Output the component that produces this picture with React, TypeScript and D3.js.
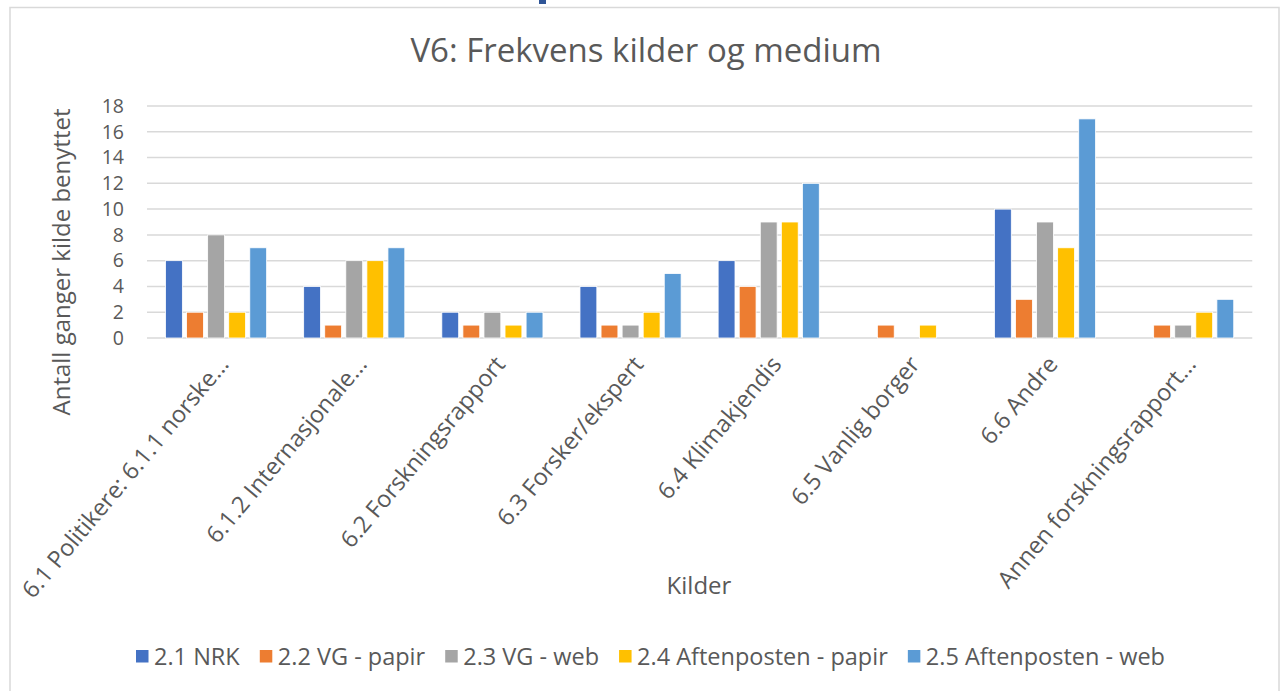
import { useEffect, useRef } from "react";
import * as d3 from "d3";

const categories = [
  "6.1 Politikere: 6.1.1 norske...",
  "6.1.2 Internasjonale...",
  "6.2 Forskningsrapport",
  "6.3 Forsker/ekspert",
  "6.4 Klimakjendis",
  "6.5 Vanlig borger",
  "6.6 Andre",
  "Annen forskningsrapport...",
];

const seriesNames = [
  "2.1 NRK",
  "2.2 VG - papir",
  "2.3 VG - web",
  "2.4 Aftenposten - papir",
  "2.5 Aftenposten - web",
];

const nrk = [6, 4, 2, 4, 6, 0, 10, 0];
const vgPapir = [2, 1, 1, 1, 4, 1, 3, 1];
const vgWeb = [8, 6, 2, 1, 9, 0, 9, 1];
const apPapir = [2, 6, 1, 2, 9, 1, 7, 2];
const apWeb = [7, 7, 2, 5, 12, 0, 17, 3];

const seriesValues = [nrk, vgPapir, vgWeb, apPapir, apWeb];
const colors = ["#4472C4", "#ED7D31", "#A5A5A5", "#FFC000", "#5B9BD5"];
const yTicks = [0, 2, 4, 6, 8, 10, 12, 14, 16, 18];

const W = 1285;
const H = 691;
const textColor = "#595959";
const font = "'Open Sans', sans-serif";

const App = () => {
  const svgRef = useRef<SVGSVGElement>(null);

  useEffect(() => {
    const svg = d3.select(svgRef.current);
    svg.selectAll("*").remove();

    const margin = { top: 106, left: 147, right: 32, bottom: 353 };
    const plotBottom = H - margin.bottom;

    // frame
    svg
      .append("rect")
      .attr("x", 10)
      .attr("y", 7.5)
      .attr("width", 1269)
      .attr("height", 700)
      .attr("fill", "#fff")
      .attr("stroke", "#d9d9d9")
      .attr("stroke-width", 1.5);

    // bit of blue above the frame
    svg.append("rect").attr("x", 539).attr("y", 0).attr("width", 7).attr("height", 4).attr("fill", "#2f5597");

    const x0 = d3
      .scaleBand()
      .domain(categories)
      .range([margin.left, W - margin.right - 0.75]);

    const outer = x0.bandwidth() * 0.134;
    const x1 = d3
      .scaleBand()
      .domain(seriesNames)
      .range([outer, x0.bandwidth() - outer])
      .paddingInner(0.2);

    const y = d3.scaleLinear().domain([0, 18]).range([plotBottom, margin.top]);

    // title
    svg
      .append("text")
      .attr("x", 646)
      .attr("y", 62)
      .attr("text-anchor", "middle")
      .attr("font-family", font)
      .attr("font-size", 33)
      .attr("fill", textColor)
      .text("V6: Frekvens kilder og medium");

    // grid
    svg
      .append("g")
      .selectAll("line")
      .data(yTicks)
      .join("line")
      .attr("x1", margin.left)
      .attr("x2", W - margin.right - 0.75)
      .attr("y1", (d) => y(d))
      .attr("y2", (d) => y(d))
      .attr("stroke", "#d9d9d9")
      .attr("stroke-width", 1.5);

    // y tick labels
    svg
      .append("g")
      .selectAll("text")
      .data(yTicks)
      .join("text")
      .attr("x", 124)
      .attr("y", (d) => y(d))
      .attr("dy", "0.35em")
      .attr("text-anchor", "end")
      .attr("font-family", font)
      .attr("font-size", 19.5)
      .attr("fill", textColor)
      .text((d) => d);

    // bars
    const groups = svg
      .append("g")
      .selectAll("g")
      .data(categories)
      .join("g")
      .attr("transform", (d) => `translate(${x0(d)},0)`);

    groups
      .selectAll("rect")
      .data((_, i) => seriesNames.map((s, j) => ({ s, j, v: seriesValues[j][i] })))
      .join("rect")
      .filter((d) => d.v > 0)
      .attr("x", (d) => x1(d.s)!)
      .attr("y", (d) => y(d.v))
      .attr("width", x1.bandwidth())
      .attr("height", (d) => y(0) - y(d.v))
      .attr("fill", (d) => colors[d.j])
      .attr("stroke", "#fff")
      .attr("stroke-width", 0.8);

    // x labels
    svg
      .append("g")
      .selectAll("text")
      .data(categories)
      .join("text")
      .attr(
        "transform",
        (d) => `translate(${x0(d)! + x0.bandwidth() / 2 + 14},${plotBottom + 27}) rotate(-50)`
      )
      .attr("text-anchor", "end")
      .attr("font-family", font)
      .attr("font-size", 23.5)
      .attr("fill", textColor)
      .text((d) => d);

    // axis titles
    svg
      .append("text")
      .attr("x", 699)
      .attr("y", 594)
      .attr("text-anchor", "middle")
      .attr("font-family", font)
      .attr("font-size", 24)
      .attr("fill", textColor)
      .text("Kilder");

    svg
      .append("text")
      .attr("transform", `translate(70,262) rotate(-90)`)
      .attr("text-anchor", "middle")
      .attr("font-family", font)
      .attr("font-size", 24)
      .attr("fill", textColor)
      .text("Antall ganger kilde benyttet");

    // legend
    const legend = svg.append("g");
    const items = legend
      .selectAll("g")
      .data(seriesNames)
      .join("g");
    items
      .append("rect")
      .attr("width", 12.5)
      .attr("height", 12.5)
      .attr("y", 650)
      .attr("fill", (_, i) => colors[i]);
    const labels = items
      .append("text")
      .attr("x", 18)
      .attr("y", 665)
      .attr("font-family", font)
      .attr("font-size", 23.5)
      .attr("fill", textColor)
      .text((d) => d);

    const widths = labels.nodes().map((n) => (n as SVGTextElement).getComputedTextLength() + 18);
    const start = 136;
    const end = 1165;
    const gap = (end - start - d3.sum(widths)) / (widths.length - 1);
    let cx = start;
    items.attr("transform", (_, i) => {
      const t = `translate(${cx},0)`;
      cx += widths[i] + gap;
      return t;
    });
  }, []);

  return (
    <svg
      ref={svgRef}
      width={W}
      height={H}
      style={{ position: "absolute", left: 0, top: 0, background: "#fff" }}
    />
  );
};

export default App;
